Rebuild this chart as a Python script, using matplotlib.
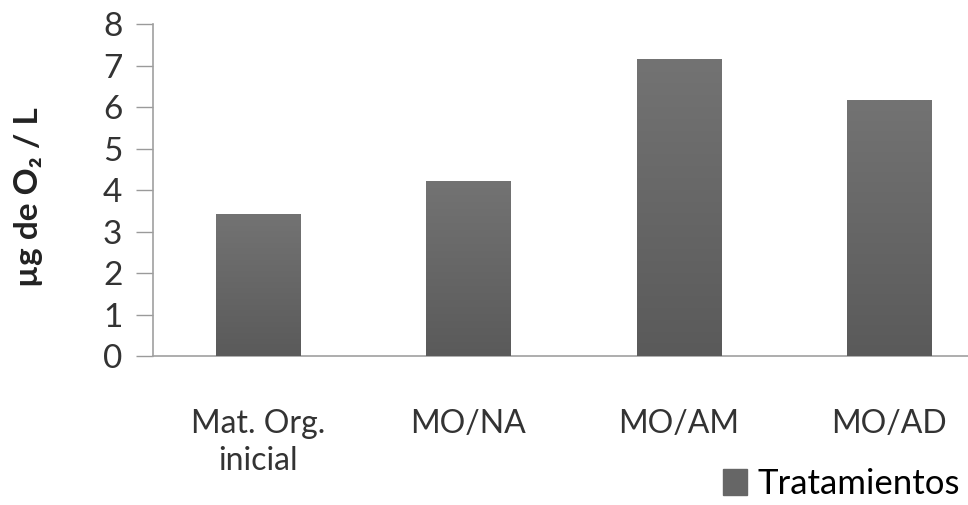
import numpy as np
import matplotlib
matplotlib.use('Agg')
import matplotlib.pyplot as plt
from matplotlib.patches import Rectangle

plt.rcParams['font.family'] = ['Lato', 'DejaVu Sans']

# --- datos ---
categorias = ['Mat. Org.\ninicial', 'MO/NA', 'MO/AM', 'MO/AD']
valores = [3.4, 4.2, 7.15, 6.15]
y_ticks = [0, 1, 2, 3, 4, 5, 6, 7, 8]
serie = 'Tratamientos'

fig = plt.figure(figsize=(9.68, 5.05), dpi=100)
ax = fig.add_axes([0.158, 0.295, 0.842, 0.6574])

x = np.arange(len(categorias))
barras = ax.bar(x, valores, width=0.4, color='#666666', label=serie, zorder=2)

# degradado vertical dentro de cada barra
grad = np.linspace(0, 1, 256).reshape(-1, 1)
cmap = matplotlib.colors.LinearSegmentedColormap.from_list('g', ['#5a5a5a', '#737373'])
for b in barras:
    x0, w, h = b.get_x(), b.get_width(), b.get_height()
    ax.imshow(grad, extent=[x0, x0 + w, 0, h], origin='lower', cmap=cmap,
              aspect='auto', zorder=3)

ax.set_xlim(-0.5, 3.376)
ax.set_ylim(0, 8)
ax.set_yticks(y_ticks)
ax.set_xticks(x)
ax.set_xticklabels(categorias, fontsize=23, color='#333333', linespacing=1.3)
ax.tick_params(axis='x', length=0, pad=38)
ax.tick_params(axis='y', length=12, width=1, color='#9a9a9a', labelsize=24,
               labelcolor='#333333', pad=10)

for s in ['top', 'right']:
    ax.spines[s].set_visible(False)
for s in ['left', 'bottom']:
    ax.spines[s].set_color('#a0a0a0')
    ax.spines[s].set_linewidth(1.2)

ax.set_ylabel('µg de O₂ / L', fontsize=24, fontweight='bold', color='#222222', labelpad=36)
ax.yaxis.set_label_coords(-0.135, 0.48)

handles = [Rectangle((0, 0), 1, 1, color='#666666')]
fig.legend(handles, [serie], loc='lower right', bbox_to_anchor=(1.006, -0.018),
           frameon=False, fontsize=25, handlelength=0.7, handleheight=0.75,
           handletextpad=0.3, borderaxespad=0.0)

fig.savefig('out.png', dpi=100)
